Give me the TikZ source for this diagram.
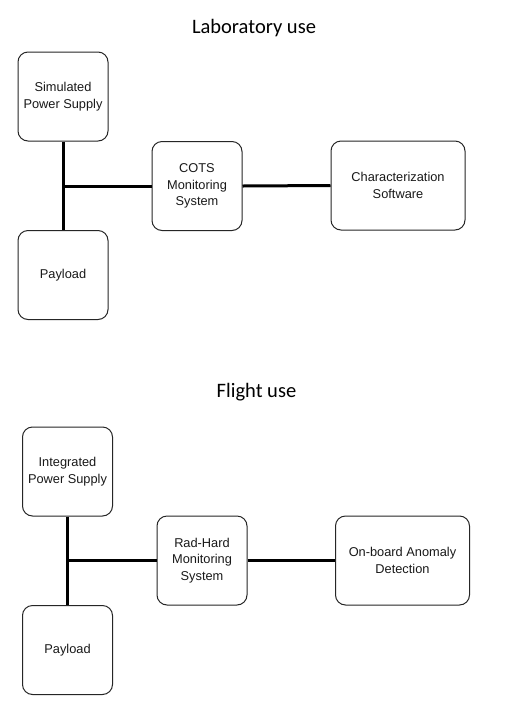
\documentclass[tikz,border=0pt]{standalone}
\usepackage{fontspec}
\setmainfont{Liberation Sans}
\newfontfamily\titlefont{Carlito}
\begin{document}
\begin{tikzpicture}[x=1pt,y=-1pt,
  blk/.style={draw=black!85,line width=1pt,rounded corners=10pt,align=center,
    minimum width=90pt,minimum height=89pt,inner sep=0pt,
    font=\fontsize{12.8}{16.7}\selectfont,text=black!90},
  wide/.style={blk,minimum width=134pt},
  ttl/.style={font=\titlefont\fontsize{20.5}{24}\selectfont,inner sep=0pt},
  wire/.style={line width=3pt,black}]
\useasboundingbox[fill=white] (0,0) rectangle (515,724);
% Laboratory
\node[ttl] (t1) at (254,28.5) {Laboratory use};
\node[blk] (sim) at (63,96.5) {Simulated\\Power Supply};
\node[blk] (cots) at (197,186) {COTS\\Monitoring\\System};
\node[blk] (pay1) at (63,275) {Payload};
\node[wide] (char) at (398,185.5) {Characterization\\Software};
\coordinate (j1) at (63,186);
\draw[wire] (sim.south) -- (pay1.north);
\draw[wire] (j1) -- (cots.west);
\draw[wire] (cots.east) -- (char.west);
% Flight
\node[ttl] (t2) at (256.5,392.5) {Flight use};
\node[blk] (int) at (67.5,471.5) {Integrated\\Power Supply};
\node[blk] (rad) at (202,560.5) {Rad-Hard\\Monitoring\\System};
\node[blk] (pay2) at (67.5,650) {Payload};
\node[wide] (onb) at (402.5,560.5) {On-board Anomaly\\Detection};
\coordinate (j2) at (67.5,560.5);
\draw[wire] (int.south) -- (pay2.north);
\draw[wire] (j2) -- (rad.west);
\draw[wire] (rad.east) -- (onb.west);
\end{tikzpicture}
\end{document}
